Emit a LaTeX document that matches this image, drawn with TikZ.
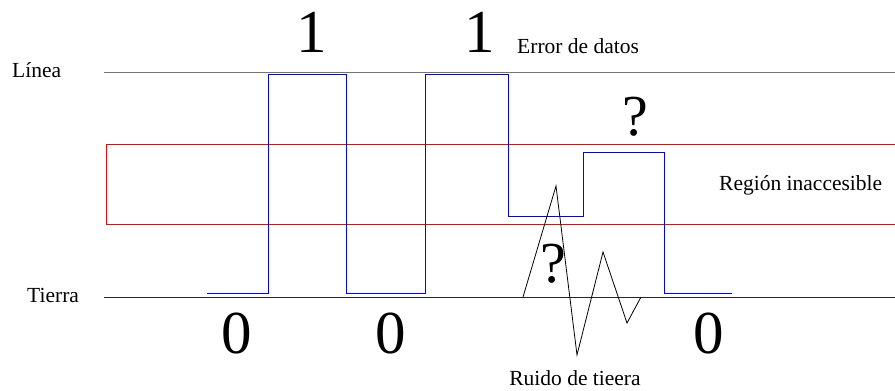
\documentclass[tikz,border=0pt]{standalone}
\usepackage{fontspec}
\setmainfont{Liberation Serif}
\usepackage{tikz}

\begin{document}
\begin{tikzpicture}[x=1pt,y=-1pt,
        label/.style={font=\fontsize{21.5}{24}\selectfont,inner sep=0pt,anchor=base west},
        bit/.style={font=\fontsize{61}{70}\selectfont,inner sep=0pt,anchor=base},
        signal/.style={blue,line width=0.8pt},
        noise/.style={black,line width=0.8pt}]
        \useasboundingbox (0,0) rectangle (895,391);
        % levels
        \coordinate (lineaW) at (104,72);
        \coordinate (lineaE) at (895,72);
        \coordinate (tierraW) at (104,297);
        \coordinate (tierraE) at (895,297);
        \draw[gray!90!black,line width=1pt] (lineaW) -- (lineaE);
        \draw[black!85,line width=0.8pt] (tierraW) -- (tierraE);
        \draw[red,line width=0.8pt] (106,144) rectangle (897,224);
        \node[label] (linea) at (12,77) {Línea};
        \node[label] (tierra) at (27,302) {Tierra};
        \node[label] (region) at (719,190) {Región inaccesible};
        \node[label] (error) at (517,53) {Error de datos};
        \node[label,anchor=base] (ruido) at (575,385) {Ruido de tieera};
        % bits
        \node[bit] (uno1) at (312,52) {1};
        \node[bit] (uno2) at (480,52) {1};
        \node[bit] (cero1) at (237,353) {0};
        \node[bit] (cero2) at (391,353) {0};
        \node[bit] (cero3) at (709,353) {0};
        \node[bit,font=\fontsize{58}{66}\selectfont] (dudaA) at (635,135) {?};
        \node[bit,font=\fontsize{58}{66}\selectfont] (dudaB) at (553,282) {?};
        % signal
        \draw[signal] (207,293) -- (268,293) -- (268,74) -- (346,74) -- (346,293)
              -- (425,293) -- (425,74) -- (508,74) -- (508,216) -- (583,216)
              -- (583,152) -- (664,152) -- (664,293) -- (732,293);
        % noise
        \draw[noise] (523,297) -- (556,186) -- (577,355) -- (603,252) -- (627,323) -- (641,297);
    \end{tikzpicture}
\end{document}
